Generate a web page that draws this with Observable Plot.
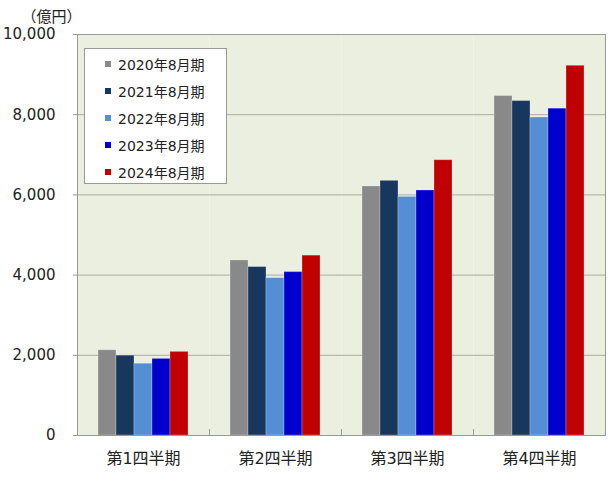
<!DOCTYPE html>
<html><head><meta charset="utf-8">
<script src="https://cdn.jsdelivr.net/npm/d3@7"></script>
<script src="https://cdn.jsdelivr.net/npm/@observablehq/plot@0.6"></script>
<style>
body{margin:0;background:#fff;font-family:"DejaVu Sans","Noto Sans CJK JP",sans-serif;}
#wrap{position:relative;width:610px;height:500px;}
#wrap svg text{text-spacing-trim:space-all;}
#legend{position:absolute;left:84px;top:48px;width:143px;height:136px;background:#fff;border:1px solid #999;box-sizing:border-box;}
.item{position:absolute;left:0;height:20px;display:flex;align-items:center;font-size:14px;color:#222;white-space:nowrap;}
.sw{width:6px;height:6px;margin-left:20px;margin-right:7px;}
</style></head><body><div id="wrap"><div id="legend"></div></div>
<script>
const quarters = ["第1四半期", "第2四半期", "第3四半期", "第4四半期"];
const years = ["2020年8月期", "2021年8月期", "2022年8月期", "2023年8月期", "2024年8月期"];
const colors = ["#898989", "#17375E", "#558ED5", "#0000CC", "#C00000"];
const v2020 = [2125, 4365, 6210, 8465];
const v2021 = [1990, 4200, 6350, 8340];
const v2022 = [1790, 3925, 5950, 7930];
const v2023 = [1910, 4075, 6110, 8150];
const v2024 = [2085, 4485, 6865, 9220];
const yTicks = [0, 2000, 4000, 6000, 8000, 10000];
const unitLabel = "（億円）";

const series = [v2020, v2021, v2022, v2023, v2024];
const rows = [];
quarters.forEach((q, qi) => years.forEach((y, yi) => rows.push({quarter: q, year: y, value: series[yi][qi]})));

const font = '"DejaVu Sans","Noto Sans CJK JP",sans-serif';
const gray = "#999";

const chart = Plot.plot({
  width: 610, height: 500,
  marginLeft: 76, marginRight: 5, marginTop: 34, marginBottom: 65,
  style: {fontFamily: font, color: "#222", background: "transparent"},
  fx: {domain: quarters, padding: 0, label: null},
  x: {domain: years, axis: null, paddingInner: 0, paddingOuter: 1.05},
  y: {domain: [0, 10000], label: null},
  color: {domain: years, range: colors},
  marks: [
    Plot.frame({fill: "#EBEFDF", stroke: null}),
    Plot.gridY({ticks: yTicks, stroke: "#aaaaa2", strokeOpacity: 1}),
    Plot.barY(rows, {fx: "quarter", x: "year", y: "value", fill: "year", stroke: "white", strokeOpacity: 0.25, strokeWidth: 1}),
    Plot.ruleY([0], {stroke: gray}),
    Plot.ruleY([10000], {stroke: gray}),
    Plot.frame({anchor: "left", stroke: gray, fx: () => quarters[0]}),
    Plot.frame({anchor: "right", stroke: gray, fx: () => quarters[quarters.length - 1]}),
    ...quarters.slice(1).map(q => Plot.frame({anchor: "left", stroke: gray, insetTop: 395, fx: () => q})),
    Plot.axisY({ticks: yTicks, tickFormat: d3.format(","), fontSize: 15, tickSize: 4, tickPadding: 18, stroke: gray, label: null, anchor: "left"}),
    Plot.axisFx({anchor: "bottom", fontSize: 16, tickSize: 0, tickPadding: 17, label: null}),
    Plot.text([unitLabel], {fx: () => quarters[0], frameAnchor: "top-left", text: d => d, dx: -56, dy: -23, textAnchor: "start", fontSize: 15})
  ]
});
document.getElementById("wrap").prepend(chart);

const legend = document.getElementById("legend");
years.forEach((y, i) => {
  const item = document.createElement("div");
  item.className = "item";
  item.style.top = (5 + i * 27) + "px";
  const sw = document.createElement("span");
  sw.className = "sw";
  sw.style.background = colors[i];
  const t = document.createElement("span");
  t.textContent = y;
  item.append(sw, t);
  legend.append(item);
});
</script></body></html>
